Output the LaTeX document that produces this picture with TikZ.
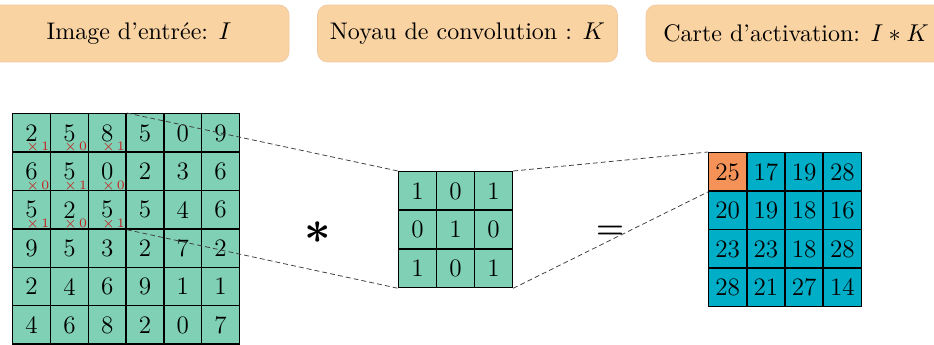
\documentclass[tikz,border=0pt]{standalone}
\usepackage{fontspec}
\definecolor{cellgreen}{RGB}{127,208,180}
\definecolor{cellteal}{RGB}{0,174,200}
\definecolor{cellorange}{RGB}{245,146,88}
\definecolor{headfill}{RGB}{250,211,163}
\definecolor{headedge}{RGB}{240,200,160}
\definecolor{multred}{RGB}{200,30,30}
\tikzset{
  cellbox/.style={draw=black, line width=0.65pt, minimum width=17.0pt, minimum height=17.3pt,
                  inner sep=0pt, anchor=north west, font=\fontsize{11.3}{13}\selectfont},
  incell/.style={cellbox, fill=cellgreen},
  kcell/.style={cellbox, fill=cellgreen},
  outcell/.style={cellbox, fill=#1},
  multlabel/.style={text=multred, font=\fontsize{5.8}{6}\selectfont, inner sep=0pt},
  header/.style={fill=headfill, draw=headedge, line width=0.3pt, rounded corners=4.5pt,
                 minimum width=135pt, minimum height=25.6pt, font=\fontsize{10.8}{13}\selectfont},
  link/.style={draw=black!75, line width=0.35pt, dash pattern=on 2.2pt off 1.4pt},
  opsym/.style={inner sep=0pt}
}
\begin{document}
\begin{tikzpicture}[x=0.45pt, y=-0.45pt]
  \useasboundingbox (0,0) rectangle (934,345);

  % headers
  \node[header] (h1) at (139,33.5) {Image d'entrée: $I$};
  \node[header] (h2) at (467.5,33.5) {Noyau de convolution : $K$};
  \node[header] (h3) at (796,33.5) {Carte d'activation: $I\ast K$};

  % input image 6x6
  \foreach \row [count=\r from 0] in {{2,5,8,5,0,9},{6,5,0,2,3,6},{5,2,5,5,4,6},{9,5,3,2,7,2},{2,4,6,9,1,1},{4,6,8,2,0,7}}{
    \foreach \v [count=\c from 0] in \row {
      \node[incell] (in-\r-\c) at ({12+\c*37.8},{113+\r*38.4}) {\v};
    }
  }
  % kernel weights on the top-left 3x3 patch
  \foreach \w [count=\i from 0] in {1,0,1,0,1,0,1,0,1}{
    \pgfmathtruncatemacro{\rr}{int(\i/3)}
    \pgfmathtruncatemacro{\cc}{mod(\i,3)}
    \node[multlabel] (w-\rr-\cc) at ([xshift=2.8pt,yshift=-6.6pt]in-\rr-\cc.center) {$\times$\,\w};
  }

  % kernel 3x3
  \foreach \row [count=\r from 0] in {{1,0,1},{0,1,0},{1,0,1}}{
    \foreach \v [count=\c from 0] in \row {
      \node[kcell] (k-\r-\c) at ({398+\c*38},{171+\r*38.7}) {\v};
    }
  }

  % activation map 4x4, first value highlighted
  \foreach \row [count=\r from 0] in {{25,17,19,28},{20,19,18,16},{23,23,18,28},{28,21,27,14}}{
    \foreach \v [count=\c from 0] in \row {
      \pgfmathtruncatemacro{\first}{\r+\c==0}
      \ifnum\first=1 \def\cellfill{cellorange}\else\def\cellfill{cellteal}\fi
      \node[outcell=\cellfill] (out-\r-\c) at ({708+\c*38.25},{152+\r*38.5}) {\v};
    }
  }

  % operators
  \node[opsym, font=\fontsize{22}{22}\selectfont\boldmath] (star) at (318,233) {$\ast$};
  \node[opsym, font=\fontsize{15}{15}\selectfont\boldmath] (eq) at (610,232) {$=$};

  % projection lines
  \draw[link] (in-0-2.north east) -- (k-0-0.north west);
  \draw[link] (in-2-2.south east) -- (k-2-0.south west);
  \draw[link] (k-0-2.north east) -- (out-0-0.north west);
  \draw[link] (k-2-2.south east) -- (out-0-0.south west);
\end{tikzpicture}
\end{document}
